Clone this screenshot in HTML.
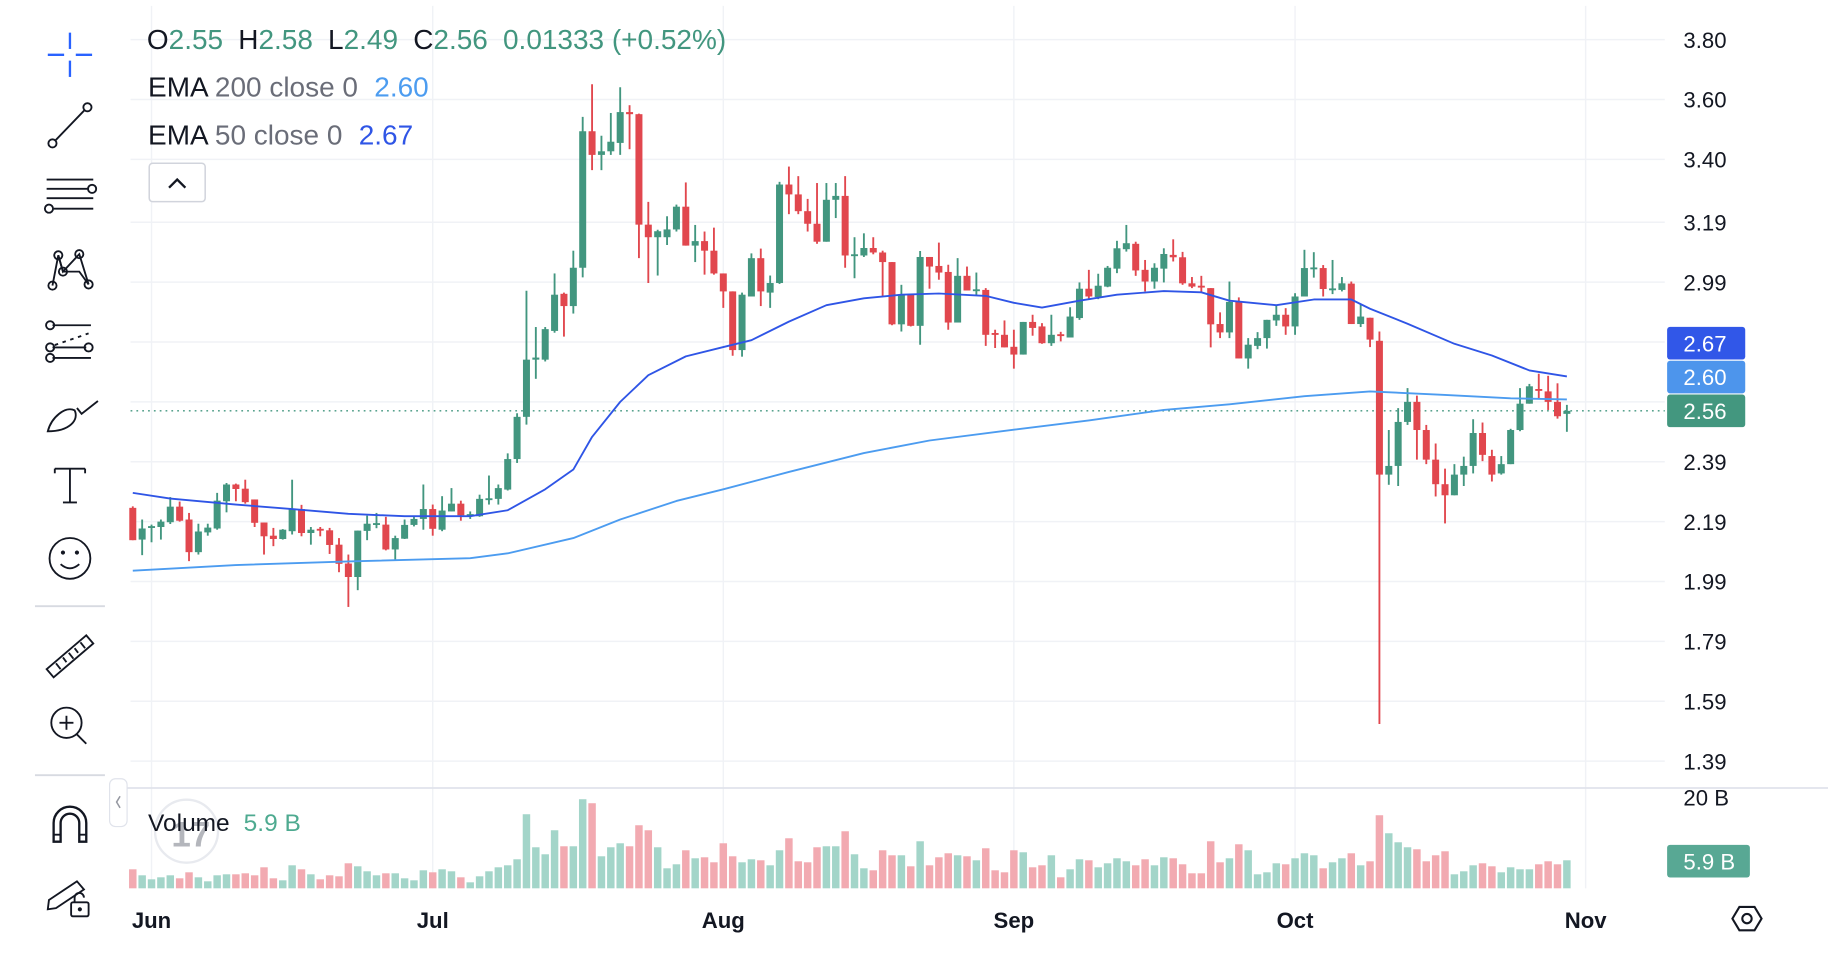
<!DOCTYPE html>
<html><head><meta charset="utf-8">
<style>
html,body{margin:0;padding:0;background:#fff;overflow:hidden}
svg{display:block}
text{font-family:"Liberation Sans",sans-serif}
</style></head>
<body>
<svg id="chart" xmlns="http://www.w3.org/2000/svg" width="1828" height="974" viewBox="0 0 1568 835.5" preserveAspectRatio="none">
<rect x="0" y="0" width="1568" height="835.5" fill="#ffffff"/>
<g id="grid"></g>
<g id="vol"></g>
<g id="candles"></g>
<g id="emas"></g>
<g id="axis"></g>
<g id="taxis"></g>

<!-- legend -->
<g font-size="24">
<text x="126" y="42" fill="#131722"><tspan>O</tspan><tspan fill="#42967f">2.55</tspan><tspan dx="13">H</tspan><tspan fill="#42967f">2.58</tspan><tspan dx="13">L</tspan><tspan fill="#42967f">2.49</tspan><tspan dx="13">C</tspan><tspan fill="#42967f">2.56</tspan><tspan dx="13" fill="#42967f">0.01333 (+0.52%)</tspan></text>
</g>
<g font-size="24"><text x="127" y="83" fill="#131722">EMA <tspan fill="#6a6d78">200 close 0</tspan><tspan dx="14" fill="#4c9cf0">2.60</tspan></text></g>
<g font-size="24"><text x="127" y="124" fill="#131722">EMA <tspan fill="#6a6d78">50 close 0</tspan><tspan dx="14" fill="#2f55e6">2.67</tspan></text></g>
<g>
<rect x="128" y="140" width="48" height="33" rx="3" fill="#fff" stroke="#d1d4dc" stroke-width="1.3"/>
<polyline points="145,161 152,154 159,161" fill="none" stroke="#131722" stroke-width="2"/>
</g>

<!-- volume legend -->
<g>
<circle cx="160" cy="713" r="27" fill="#fff" stroke="#e8eaef" stroke-width="2"/>
<text x="147" y="726" font-size="30" font-weight="bold" fill="#9598a1" opacity="0.7">17</text>
</g>
<text x="127" y="713" font-size="21" fill="#131722">Volume<tspan dx="12" fill="#4eaa90">5.9 B</tspan></text>

<!-- toolbar -->
<g stroke="#131722" stroke-width="1.6" fill="none">
<g stroke="#2962ff" stroke-width="2"><line x1="41" y1="47" x2="55" y2="47"/><line x1="65" y1="47" x2="79" y2="47"/><line x1="60" y1="28" x2="60" y2="42"/><line x1="60" y1="52" x2="60" y2="66"/></g>
<g><line x1="47" y1="121" x2="73" y2="94"/><circle cx="45" cy="123" r="3.5"/><circle cx="75" cy="92" r="3.5"/></g>
<g><line x1="40" y1="154" x2="80" y2="154"/><line x1="40" y1="162" x2="76" y2="162"/><line x1="40" y1="170" x2="80" y2="170"/><line x1="46" y1="179" x2="80" y2="179"/><circle cx="79" cy="162" r="3.5"/><circle cx="42" cy="179" r="3.5"/></g>
<g><polyline points="45,245 50,219 54,233 68,233 76,244"/><polyline points="50,219 54,233 68,218 76,244"/><circle cx="45" cy="245" r="3.5"/><circle cx="50" cy="219" r="3.5"/><circle cx="54" cy="233" r="3.5"/><circle cx="68" cy="218" r="3.5"/><circle cx="76" cy="244" r="3.5"/></g>
<g><line x1="45" y1="279" x2="78" y2="279"/><line x1="45" y1="298" x2="74" y2="298"/><line x1="45" y1="307" x2="78" y2="307"/><line x1="47" y1="296" x2="76" y2="286" stroke-dasharray="3 4"/><circle cx="43" cy="279" r="3.5"/><circle cx="43" cy="298" r="3.5"/><circle cx="76" cy="298" r="3.5"/><circle cx="43" cy="307" r="3.5"/></g>
<g><path d="M41,370 C44,358 56,348 64,352 C68,360 60,370 41,370 Z"/><path d="M66,350 L70,355 L84,344"/></g>
<g><line x1="47" y1="402" x2="73" y2="402"/><line x1="60" y1="402" x2="60" y2="431"/><line x1="54" y1="431" x2="66" y2="431"/><line x1="47" y1="402" x2="47" y2="406"/><line x1="73" y1="402" x2="73" y2="406"/></g>
<g><circle cx="60" cy="479" r="17.5"/><path d="M52,484 Q60,491 68,484"/><circle cx="54" cy="474" r="1" fill="#131722"/><circle cx="66" cy="474" r="1" fill="#131722"/></g>
<line x1="30" y1="520" x2="90" y2="520" stroke="#d7dae1"/>
<g><path d="M40,574 L74,545 L80,552 L46,581 Z"/><line x1="48" y1="569" x2="52" y2="574"/><line x1="54" y1="564" x2="57" y2="568"/><line x1="59" y1="560" x2="63" y2="565"/><line x1="64" y1="556" x2="67" y2="560"/><line x1="69" y1="551" x2="73" y2="556"/></g>
<g><circle cx="57" cy="620" r="13"/><line x1="66" y1="630" x2="74" y2="638"/><line x1="51" y1="620" x2="63" y2="620"/><line x1="57" y1="614" x2="57" y2="626"/></g>
<line x1="30" y1="665" x2="90" y2="665" stroke="#d7dae1"/>
<g><path d="M46,722 L46,706 A14,14 0 0 1 74,706 L74,722 L68,722 L68,706 A8,8 0 0 0 52,706 L52,722 Z" stroke-width="2"/><line x1="46" y1="716" x2="52" y2="716"/><line x1="68" y1="716" x2="74" y2="716"/></g>
<g><path d="M42,772 L66,756 L72,763 L48,779 L41,780 Z"/><rect x="61" y="774" width="15" height="12" rx="1.5"/><path d="M64,774 L64,770 A4,4 0 0 1 72,770"/><circle cx="68.5" cy="780" r="1" fill="#131722"/></g>
</g>
<g><rect x="94" y="668" width="15" height="41" rx="5" fill="#fff" stroke="#e0e3eb"/><polyline points="103,683 100,688 103,693" fill="none" stroke="#9598a1" stroke-width="1.3"/></g>

<g fill="none" stroke="#131722" stroke-width="1.8"><polygon points="1486,788 1492,778 1505,778 1511,788 1505,798 1492,798"/><circle cx="1498.5" cy="788" r="4"/></g>
</svg>
<script>
const NS='http://www.w3.org/2000/svg';
const opens=[2.236,2.130,2.174,2.172,2.188,2.240,2.197,2.088,2.154,2.167,2.258,2.314,2.300,2.264,2.187,2.143,2.132,2.158,2.232,2.152,2.166,2.161,2.113,2.050,2.005,2.159,2.185,2.180,2.097,2.133,2.179,2.199,2.232,2.163,2.224,2.250,2.215,2.208,2.268,2.266,2.297,2.399,
2.540,2.731,2.731,2.827,2.951,2.910,3.038,3.494,3.415,3.427,3.455,3.558,3.551,3.182,3.140,3.140,3.166,3.242,3.112,3.127,3.095,3.019,2.959,2.763,2.942,3.070,2.955,2.987,3.316,3.283,3.227,3.185,3.125,3.265,3.278,3.083,3.079,3.104,3.089,3.057,
2.849,2.948,2.844,3.074,3.044,3.024,2.855,3.011,2.964,2.964,2.820,2.814,2.774,2.748,2.857,2.842,2.786,2.816,2.805,2.870,2.968,2.940,2.975,3.035,3.100,3.118,3.031,2.992,3.035,3.081,3.073,2.986,2.978,2.970,2.850,2.822,2.924,2.735,2.777,2.803,2.862,2.881,2.842,2.942,3.039,3.037,2.969,2.964,
2.985,2.850,2.871,2.794,2.347,2.376,2.523,2.590,2.496,2.397,2.315,2.278,2.347,2.376,2.486,2.409,2.351,2.382,2.496,2.584,2.633,2.625,2.590,2.550];
const highs=[2.241,2.197,2.180,2.197,2.272,2.257,2.219,2.183,2.183,2.286,2.319,2.317,2.330,2.264,2.187,2.169,2.165,2.330,2.246,2.172,2.172,2.169,2.135,2.080,2.160,2.210,2.219,2.206,2.143,2.197,2.210,2.314,2.247,2.275,2.302,2.260,2.224,2.280,2.344,2.314,2.418,2.552,
2.961,2.840,2.840,3.019,2.955,3.095,3.542,3.651,3.479,3.555,3.641,3.581,3.553,3.258,3.165,3.210,3.249,3.323,3.181,3.159,3.172,3.019,2.959,2.955,3.086,3.102,3.012,3.325,3.376,3.344,3.268,3.321,3.321,3.321,3.344,3.140,3.153,3.140,3.095,3.057,
2.981,2.948,3.094,3.074,3.122,3.048,3.070,3.042,3.022,2.970,2.831,2.862,2.831,2.857,2.881,2.853,2.881,2.824,2.906,2.989,3.031,3.018,3.044,3.128,3.181,3.125,3.064,3.053,3.103,3.133,3.091,3.007,3.011,2.970,2.889,2.992,2.939,2.803,2.823,2.864,2.911,2.903,2.953,3.098,3.090,3.047,3.064,3.007,
2.992,2.917,2.871,2.825,2.496,2.569,2.636,2.611,2.513,2.451,2.367,2.382,2.407,2.532,2.521,2.430,2.409,2.500,2.636,2.650,2.684,2.677,2.652,2.580];
const lows=[2.128,2.078,2.121,2.130,2.182,2.190,2.058,2.080,2.143,2.163,2.221,2.258,2.250,2.172,2.080,2.108,2.130,2.147,2.141,2.113,2.141,2.082,2.021,1.905,1.961,2.128,2.168,2.094,2.063,2.132,2.174,2.163,2.143,2.158,2.224,2.193,2.199,2.206,2.247,2.247,2.294,2.386,
2.514,2.667,2.725,2.821,2.808,2.885,3.006,3.364,3.364,3.415,3.415,3.434,3.070,2.987,3.012,3.114,3.159,3.112,3.057,3.015,3.015,2.904,2.744,2.741,2.942,2.910,2.904,2.984,3.217,3.217,3.159,3.118,3.125,3.204,3.038,3.003,3.074,3.083,2.942,2.846,
2.825,2.842,2.781,2.968,2.998,2.831,2.855,2.962,2.948,2.777,2.770,2.772,2.701,2.748,2.811,2.784,2.777,2.792,2.805,2.864,2.931,2.933,2.973,3.020,3.092,3.011,2.959,2.968,2.989,3.059,2.981,2.970,2.955,2.772,2.803,2.803,2.735,2.701,2.766,2.768,2.844,2.814,2.814,2.942,3.005,2.942,2.950,2.959,
2.850,2.840,2.773,1.514,2.313,2.309,2.513,2.397,2.382,2.274,2.184,2.278,2.309,2.351,2.392,2.324,2.347,2.382,2.492,2.584,2.600,2.563,2.534,2.490];
const closes=[2.128,2.167,2.175,2.190,2.240,2.193,2.088,2.157,2.170,2.260,2.314,2.299,2.255,2.186,2.141,2.132,2.163,2.232,2.152,2.163,2.165,2.112,2.049,2.005,2.160,2.183,2.185,2.097,2.135,2.179,2.199,2.232,2.166,2.227,2.250,2.211,2.215,2.266,2.268,2.302,2.399,2.540,
2.731,2.738,2.833,2.948,2.910,3.038,3.494,3.415,3.427,3.459,3.558,3.551,3.182,3.140,3.160,3.166,3.242,3.112,3.127,3.095,3.019,2.959,2.763,2.948,3.070,2.959,2.987,3.316,3.283,3.227,3.185,3.125,3.265,3.278,3.079,3.083,3.104,3.089,3.057,2.849,
2.948,2.844,3.074,3.042,3.022,2.855,3.011,2.962,2.966,2.814,2.818,2.772,2.748,2.857,2.837,2.786,2.814,2.814,2.875,2.968,2.942,2.978,3.038,3.103,3.120,3.029,2.992,3.038,3.084,3.073,2.986,2.975,2.975,2.849,2.822,2.924,2.735,2.781,2.803,2.864,2.881,2.842,2.942,3.037,3.039,2.967,2.969,2.986,
2.850,2.875,2.798,2.347,2.376,2.523,2.590,2.496,2.397,2.315,2.278,2.347,2.376,2.486,2.413,2.347,2.382,2.496,2.584,2.642,2.628,2.590,2.542,2.560];
const volumeH=[57,39,27,33,39,30,48,33,21,39,42,42,45,39,63,30,24,69,57,42,27,39,36,75,66,51,39,45,45,30,24,54,48,57,51,33,18,36,51,63,69,87,222,123,102,174,126,126,267,255,96,123,135,126,189,174,123,60,72,114,90,93,78,135,96,78,87,84,69,114,150,81,78,123,126,126,171,102,
60,54,114,99,99,66,141,69,93,105,99,96,84,120,54,48,114,108,63,69,99,33,57,87,84,63,75,90,81,69,87,69,93,90,72,45,45,141,78,90,132,114,42,48,75,72,90,105,99,60,78,90,105,69,81,219,165,138,123,117,81,99,111,42,51,69,75,66,48,63,57,57,72,81,72,84];
const ema50Idx=[0,4,11,17,23,29,36,40,44,47,49,52,55,59,63,66,70,74,78,82,86,91,94,97,101,105,110,114,117,122,126,130,132,136,141,145,149,153];
const ema50Val=[2.286,2.267,2.247,2.232,2.216,2.208,2.208,2.228,2.298,2.364,2.473,2.590,2.679,2.742,2.773,2.796,2.858,2.913,2.936,2.948,2.952,2.944,2.921,2.905,2.928,2.948,2.960,2.956,2.928,2.913,2.932,2.932,2.901,2.851,2.784,2.745,2.695,2.675];
const ema200Idx=[0,11,23,36,40,47,52,58,63,70,78,85,94,102,110,117,125,132,140,147,153];
const ema200Val=[2.026,2.045,2.057,2.068,2.084,2.135,2.197,2.259,2.298,2.356,2.419,2.461,2.497,2.528,2.563,2.582,2.609,2.625,2.613,2.602,2.598];
const priceTicks=['3.80','3.60','3.40','3.19','2.99','2.39','2.19','1.99','1.79','1.59','1.39'];
const gridTicks=[3.80,3.60,3.40,3.19,2.99,2.79,2.59,2.39,2.19,1.99,1.79,1.59,1.39];
const monthLabels=['Jun','Jul','Aug','Sep','Oct','Nov'];
const monthIdx=[2,32,63,94,124,155];
const lastClose=2.56, ema50Last=2.67, ema200Last=2.60, lastVolume=5.9;

const X0=113.9, DX=8.04;
function xAt(i){return X0+i*DX;}
function yAt(p){return 34+(3.80-p)*256.8;}
function vY(h){return 762-h/13.8*3.95;}
function vHeight(h){return h/13.8*3.95;}
function mk(tag,attrs,parent){const e=document.createElementNS(NS,tag);for(const k in attrs)e.setAttribute(k,attrs[k]);parent.appendChild(e);return e;}

const grid=document.getElementById('grid');
gridTicks.forEach(p=>{
  const l=mk('line',{x1:112,x2:1428,y1:yAt(p),y2:yAt(p),stroke:'#f0f2f6','stroke-width':1.2},grid);
  
  
});
monthIdx.forEach(i=>{
  const l=mk('line',{x1:xAt(i),x2:xAt(i),y1:5,y2:762,stroke:'#f0f2f6','stroke-width':1.2},grid);
  
  
});
const sep=mk('line',{x1:95,x2:1568,y1:676,y2:676,stroke:'#e0e3eb','stroke-width':1.5},grid);


const dl=mk('line',{x1:112,x2:1428,y1:yAt(lastClose),y2:yAt(lastClose),stroke:'#42967f','stroke-width':1.2,'stroke-dasharray':'1.5 3.5'},grid);



const vol=document.getElementById('vol');
volumeH.forEach((h,i)=>{
  const up=closes[i]>=opens[i];
  const r=mk('rect',{x:xAt(i)-3.2,y:vY(h),width:6.4,height:vHeight(h),fill:up?'#a3d5c9':'#f2aab1'},vol);
  
  
});

const cg=document.getElementById('candles');
opens.forEach((o,i)=>{
  const c=closes[i], up=c>=o, col=up?'#42967f':'#e1474e';
  const g=mk('g',{},cg);
  
  
  mk('line',{x1:xAt(i),x2:xAt(i),y1:yAt(highs[i]),y2:yAt(lows[i]),stroke:col,'stroke-width':1.6},g);
  const top=Math.min(yAt(o),yAt(c)), hh=Math.max(1.6,Math.abs(yAt(o)-yAt(c)));
  mk('rect',{x:xAt(i)-3,y:top,width:6,height:hh,fill:col},g);
});

const eg=document.getElementById('emas');
function poly(idx,val,col,name){
  const p=mk('polyline',{points:idx.map((i,k)=>xAt(i)+','+yAt(val[k])).join(' '),fill:'none',stroke:col,'stroke-width':1.6,'stroke-linejoin':'round'},eg);
  
  
}
poly(ema200Idx,ema200Val,'#4c9cf0','ema-200-line');
poly(ema50Idx,ema50Val,'#2f55e6','ema-50-line');

const ax=document.getElementById('axis');
priceTicks.forEach(t=>{
  const tx=mk('text',{x:1444,y:yAt(parseFloat(t))+7,'font-size':19,fill:'#131722'},ax);
  tx.textContent=t;
  
  
});
const clip=mk('clipPath',{id:'vclip'},ax);
mk('rect',{x:1430,y:677,width:120,height:30},clip);
const v20=mk('text',{x:1444,y:691,'font-size':19,fill:'#131722','clip-path':'url(#vclip)'},ax);
v20.textContent='20 B';


function badge(val,txt,col,name,w){
  const g=mk('g',{},ax);
  
  
  mk('rect',{x:1430,y:val-14,width:w,height:28,rx:2.5,fill:col},g);
  const t=mk('text',{x:1444,y:val+7,'font-size':19,fill:'#ffffff'},g);
  t.textContent=txt;
}
const lastY=yAt(lastClose);
badge(lastY-58,ema50Last.toFixed(2),'#3157e8','ema-50-price-badge',67);
badge(lastY-29,ema200Last.toFixed(2),'#4d95ec','ema-200-price-badge',67);
badge(lastY,lastClose.toFixed(2),'#43977f','last-price-badge',67);
badge(vY(lastVolume*13.8),lastVolume.toFixed(1)+' B','#58a894','last-volume-badge',71);

const ta=document.getElementById('taxis');
monthLabels.forEach((m,k)=>{
  const t=mk('text',{x:xAt(monthIdx[k]),y:796,'font-size':19,'font-weight':'bold','text-anchor':'middle',fill:'#131722'},ta);
  t.textContent=m;
  
  
});
</script>
</body></html>
